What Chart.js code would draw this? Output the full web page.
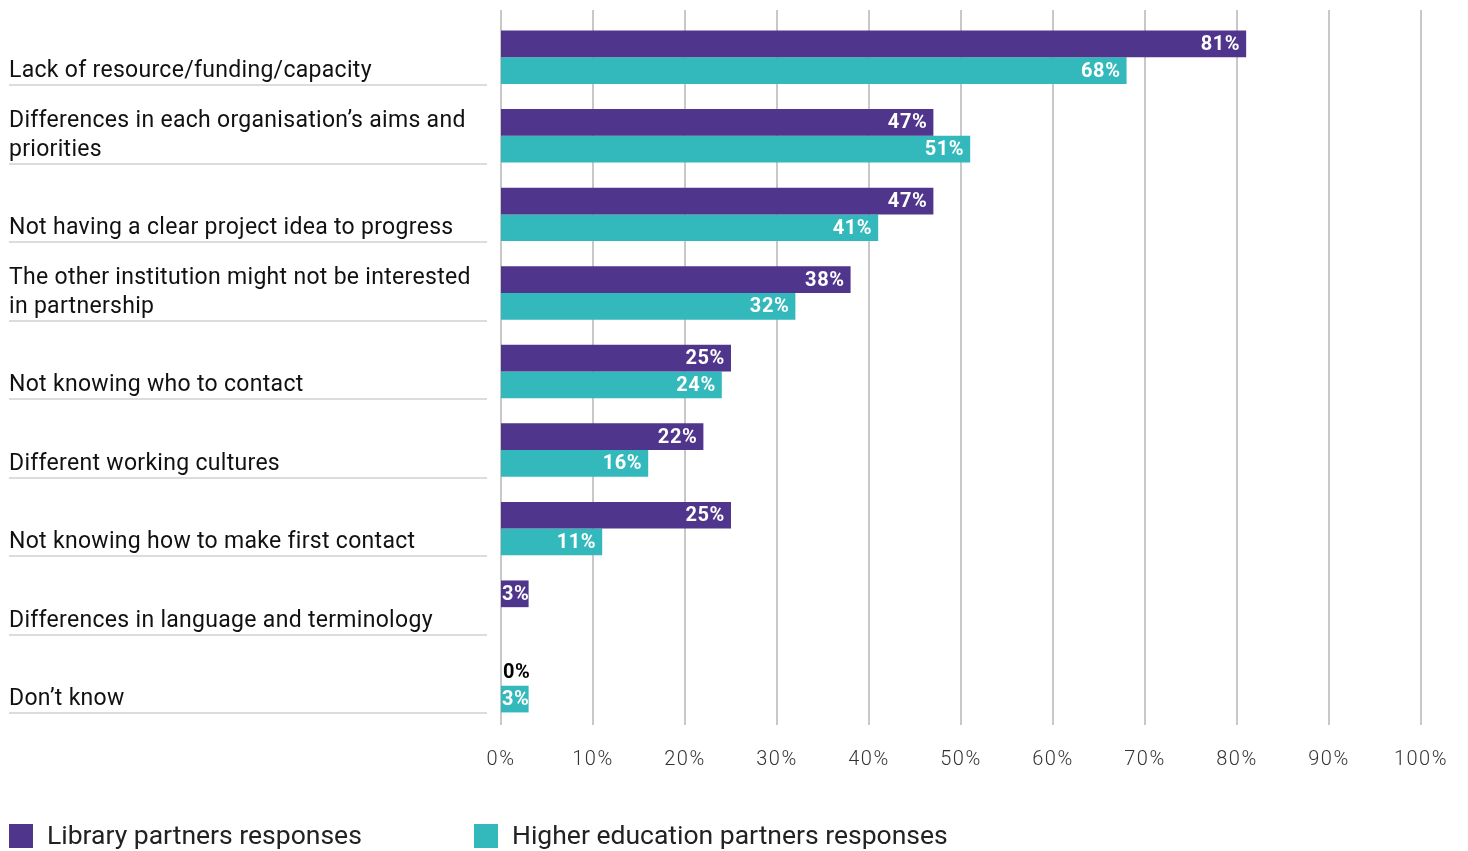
<!DOCTYPE html>
<html>
<head>
<meta charset="utf-8">
<script src="https://cdn.jsdelivr.net/npm/chart.js@4/dist/chart.umd.min.js"></script>
<style>
  html, body { margin: 0; padding: 0; background: #fff; }
  #wrap { width: 1468px; height: 851px; position: relative; }
</style>
</head>
<body>
<div id="wrap"><canvas id="barChart"></canvas></div>
<script>
const categories = [
  'Lack of resource/funding/capacity',
  ['Differences in each organisation’s aims and', 'priorities'],
  'Not having a clear project idea to progress',
  ['The other institution might not be interested', 'in partnership'],
  'Not knowing who to contact',
  'Different working cultures',
  'Not knowing how to make first contact',
  'Differences in language and terminology',
  'Don’t know'
];
const libraryValues = [81, 47, 47, 38, 25, 22, 25, 3, 0];
const heValues = [68, 51, 41, 32, 24, 16, 11, null, 3];
const seriesNames = ['Library partners responses', 'Higher education partners responses'];
const xTicks = [0, 10, 20, 30, 40, 50, 60, 70, 80, 90, 100];

const PURPLE = '#4f358b';
const TEAL = '#33b8bc';
const CAT_PCT = 0.68;
const FONT = 'Roboto, "Noto Sans", sans-serif';
const GRID_TOP = 10;

// vertical gridlines run a little above the first row
const gridPlugin = {
  id: 'gridPlugin',
  beforeDraw(chart) {
    // wider spacing for the axis tick text
    chart.ctx.letterSpacing = '1.5px';
  },
  beforeDatasetsDraw(chart) {
    const { ctx, chartArea, scales: { x } } = chart;
    ctx.letterSpacing = '0px';
    ctx.save();
    ctx.strokeStyle = '#c8c8c8';
    ctx.lineWidth = 2;
    xTicks.forEach(v => {
      const px = Math.round(x.getPixelForValue(v));
      ctx.beginPath();
      ctx.moveTo(px, GRID_TOP);
      ctx.lineTo(px, chartArea.bottom);
      ctx.stroke();
    });
    ctx.restore();
  }
};

// category text + underline on the left, value labels on bars, legend at bottom
const decorPlugin = {
  id: 'decorPlugin',
  afterDatasetsDraw(chart) {
    const { ctx, scales: { y } } = chart;
    const n = categories.length;
    const rowH = (y.bottom - y.top) / n;
    const half = rowH * CAT_PCT / 2;
    ctx.save();

    // category labels
    ctx.font = '23px ' + FONT;
    ctx.letterSpacing = '0.3px';
    ctx.textAlign = 'left';
    ctx.textBaseline = 'alphabetic';
    categories.forEach((cat, i) => {
      const lines = Array.isArray(cat) ? cat : [cat];
      const base = Math.round(y.getPixelForValue(i) + half);
      ctx.fillStyle = '#111';
      lines.forEach((ln, j) => {
        ctx.fillText(ln, 9, base - 7 - (lines.length - 1 - j) * 29);
      });
      ctx.fillStyle = '#dcdcdc';
      ctx.fillRect(9, base, 478, 2);
    });

    // value labels
    ctx.font = 'bold 20px ' + FONT;
    ctx.letterSpacing = '0.6px';
    ctx.textBaseline = 'middle';
    chart.data.datasets.forEach((ds, di) => {
      const meta = chart.getDatasetMeta(di);
      meta.data.forEach((bar, i) => {
        const v = ds.data[i];
        if (v === null || v === undefined) return;
        const txt = v + '%';
        const w = ctx.measureText(txt).width;
        const width = bar.x - bar.base;
        if (v === 0) {
          ctx.fillStyle = '#000';
          ctx.textAlign = 'left';
          ctx.fillText(txt, bar.base + 2, bar.y + 1);
        } else if (width < w + 10) {
          ctx.fillStyle = '#fff';
          ctx.textAlign = 'left';
          ctx.fillText(txt, bar.base + 1, bar.y + 1);
        } else {
          ctx.fillStyle = '#fff';
          ctx.textAlign = 'right';
          ctx.fillText(txt, bar.x - 6, bar.y + 1);
        }
      });
    });

    // legend
    ctx.font = '26.5px ' + FONT;
    ctx.letterSpacing = '0px';
    ctx.textAlign = 'left';
    ctx.textBaseline = 'middle';
    const legendX = [9, 474];
    chart.data.datasets.forEach((ds, di) => {
      ctx.fillStyle = ds.backgroundColor;
      ctx.fillRect(legendX[di], 824, 24, 24);
      ctx.fillStyle = '#222';
      ctx.fillText(ds.label, legendX[di] + 38, 837);
    });
    ctx.restore();
  }
};

new Chart(document.getElementById('barChart'), {
  type: 'bar',
  data: {
    labels: categories,
    datasets: [
      { label: seriesNames[0], data: libraryValues, backgroundColor: PURPLE },
      { label: seriesNames[1], data: heValues, backgroundColor: TEAL }
    ]
  },
  options: {
    indexAxis: 'y',
    responsive: true,
    maintainAspectRatio: false,
    animation: false,
    datasets: { bar: { categoryPercentage: CAT_PCT, barPercentage: 1 } },
    layout: { padding: { left: 501, right: 46, top: 18, bottom: 0 } },
    plugins: { legend: { display: false }, tooltip: { enabled: false } },
    scales: {
      y: { display: false },
      x: {
        min: 0,
        max: 100,
        afterBuildTicks: s => { s.ticks = xTicks.map(v => ({ value: v })); },
        afterFit: s => { s.height = 126; },
        border: { display: false },
        grid: { display: false, drawTicks: false },
        ticks: {
          padding: 23,
          color: '#333',
          font: { family: FONT, size: 20, weight: 300 },
          callback: v => v + '%'
        }
      }
    }
  },
  plugins: [gridPlugin, decorPlugin]
});
</script>
</body>
</html>
